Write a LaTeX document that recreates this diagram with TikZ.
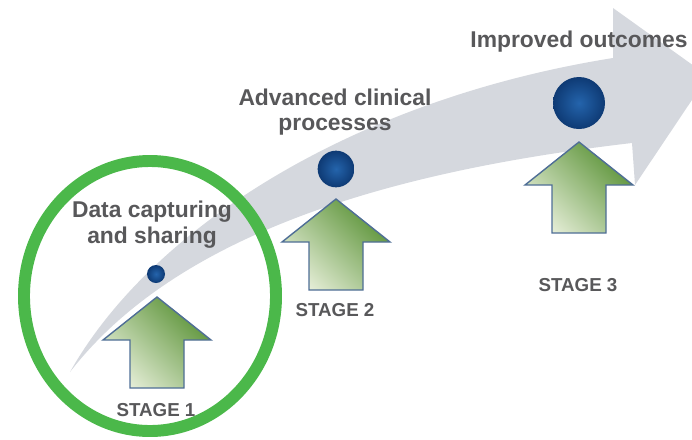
\documentclass[tikz,border=0pt]{standalone}
\usepackage{fontspec}
\setmainfont{Liberation Sans}
\usetikzlibrary{positioning}
\definecolor{bandgray}{HTML}{D5D8DE}
\definecolor{ringgreen}{HTML}{4BB84A}
\definecolor{textgray}{HTML}{58585A}
\definecolor{lightleaf}{HTML}{E4EDD6}
\definecolor{darkleaf}{HTML}{5A9236}
\definecolor{edgeblue}{HTML}{4F6E96}
\definecolor{dotblue}{HTML}{2464AC}
\definecolor{dotrim}{HTML}{0E3A74}
\tikzset{
  label/.style={text=textgray,font=\fontsize{19.5}{22}\selectfont\bfseries,align=center,inner sep=0pt},
  stagelabel/.style={text=textgray,font=\fontsize{16}{18}\selectfont\bfseries,inner sep=0pt},
  dot/.style={circle,inner color=dotblue,outer color=dotrim,inner sep=0pt},
  arrowfill/.style={draw=edgeblue,line width=1.2pt,bottom color=lightleaf,top color=darkleaf,shading angle=-45},
  stagearrow/.pic={\path[arrowfill] (0,0) -- (54,43) -- (27,43) -- (27,91) -- (-27,91) -- (-27,43) -- (-54,43) -- cycle;}
}
\begin{document}
\begin{tikzpicture}[x=0.03cm,y=-0.03cm]
\useasboundingbox (0,0) rectangle (692,439);
\begin{scope}
\clip (0,0) rectangle (692,439);
\fill[bandgray] (70,372) .. controls (150,230) and (350,100) .. (613,58) -- (613,8) -- (708,76) -- (635,185) -- (632,143) .. controls (400,170) and (180,230) .. (70,372) -- cycle;
\end{scope}
\draw[ringgreen,line width=10.2pt] (150,296) ellipse [x radius=3.78cm,y radius=4.05cm];
\node[label] (txt1) at (152,225) {Data capturing\\and sharing};
\node[label] (txt2) at (335,112) {Advanced clinical\\processes};
\node[label] (txt3) at (579,42) {Improved outcomes};
\node[dot,minimum size=0.54cm] (dot1) at (156,274) {};
\node[dot,minimum size=1.1cm] (dot2) at (336,169) {};
\node[dot,minimum size=1.56cm] (dot3) at (579,103) {};
\pic at (157,297) {stagearrow};
\pic at (336,199) {stagearrow};
\pic at (579,142) {stagearrow};
\node[stagelabel] (stage1) at (156,410) {STAGE 1};
\node[stagelabel] (stage2) at (335,310) {STAGE 2};
\node[stagelabel] (stage3) at (578,285) {STAGE 3};
\end{tikzpicture}
\end{document}
